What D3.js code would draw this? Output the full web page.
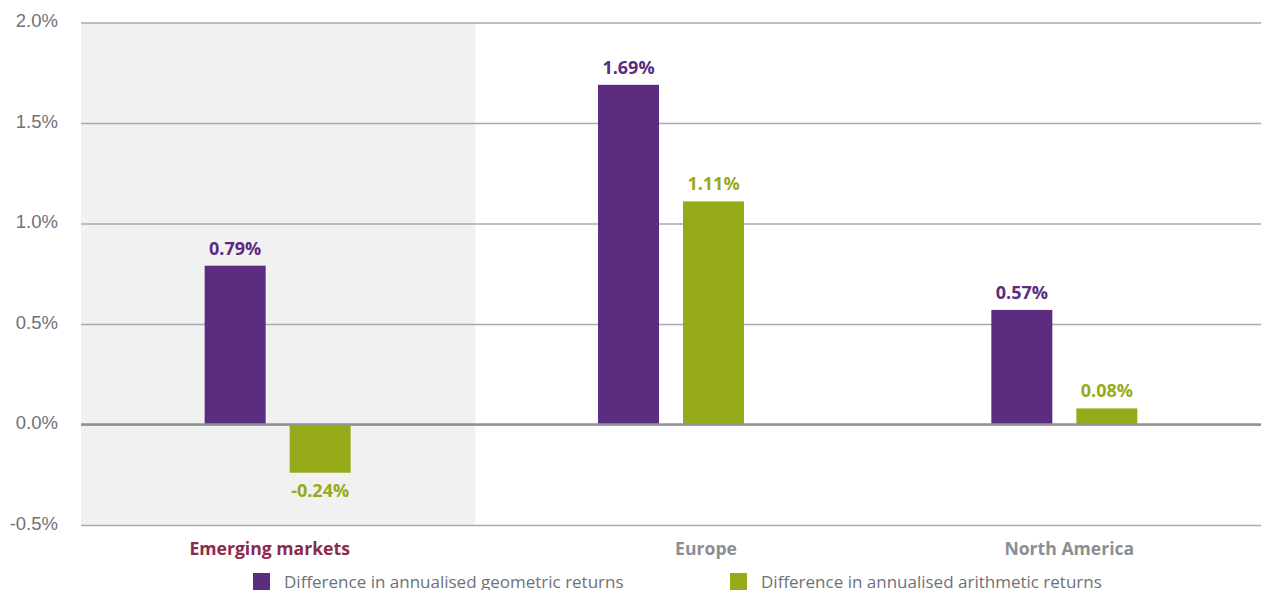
<!DOCTYPE html>
<html>
<head>
<meta charset="utf-8">
<script src="https://cdn.jsdelivr.net/npm/d3@7"></script>
<style>
  html, body { margin: 0; padding: 0; background: #ffffff; }
  svg { display: block; font-family: "Open Sans", "Noto Sans", sans-serif; }
</style>
</head>
<body>
<svg id="chart" width="1261" height="590"></svg>
<script>
// Regions compared and the two return measures
const categories = ["Emerging markets", "Europe", "North America"];
const seriesNames = [
  "Difference in annualised geometric returns",
  "Difference in annualised arithmetic returns"
];
const geometricValues = [0.79, 1.69, 0.57];
const arithmeticValues = [-0.24, 1.11, 0.08];
const yTickValues = [-0.5, 0.0, 0.5, 1.0, 1.5, 2.0];
const highlightedCategory = "Emerging markets";

const seriesColors = ["#5b2c80", "#97aa1a"];

// Number formatting with a plain hyphen for negatives
const locale = d3.formatLocale({ decimal: ".", thousands: ",", grouping: [3], currency: ["", ""], minus: "-" });
const fmt1 = locale.format(".1f");
const fmt2 = locale.format(".2f");

const svg = d3.select("#chart");
const plot = { left: 81, right: 1261, top: 22.5, bottom: 525 };

const x = d3.scaleBand()
  .domain(categories)
  .range([plot.left, plot.right])
  .paddingInner(0)
  .paddingOuter(0);

const y = d3.scaleLinear()
  .domain([-0.5, 2.0])
  .range([plot.bottom, plot.top]);

// Shaded band behind the highlighted region
svg.append("rect")
  .attr("x", x(highlightedCategory))
  .attr("y", y(2.0))
  .attr("width", x.bandwidth() + 1)
  .attr("height", y(-0.5) - y(2.0))
  .attr("fill", "#f1f1f1");

// Horizontal gridlines with tick labels
const yAxis = d3.axisLeft(y)
  .tickValues(yTickValues)
  .tickSize(-(plot.right - plot.left))
  .tickPadding(23)
  .tickFormat(d => fmt1(d) + "%");

const gy = svg.append("g")
  .attr("transform", `translate(${plot.left},0)`)
  .call(yAxis);
gy.select(".domain").remove();
gy.selectAll(".tick line")
  .attr("stroke", "#a7aaae")
  .attr("stroke-width", 1.3);
gy.selectAll(".tick text")
  .attr("fill", "#6d7278")
  .attr("font-size", 18.5)
  .attr("dy", "0.22em");

// Bars
const rows = categories.map((c, i) => ({
  category: c,
  values: [geometricValues[i], arithmeticValues[i]]
}));

const barW = 61;
const offsets = [-42.5, 42.5];

const groups = svg.append("g")
  .selectAll("g")
  .data(rows)
  .join("g")
  .attr("transform", d => `translate(${x(d.category) + x.bandwidth() / 2},0)`);

groups.selectAll("rect")
  .data(d => d.values.map((v, j) => ({ v, j })))
  .join("rect")
  .attr("x", d => offsets[d.j] - barW / 2)
  .attr("width", barW)
  .attr("y", d => y(Math.max(0, d.v)))
  .attr("height", d => Math.abs(y(d.v) - y(0)))
  .attr("fill", d => seriesColors[d.j]);

groups.selectAll("text.value")
  .data(d => d.values.map((v, j) => ({ v, j })))
  .join("text")
  .attr("class", "value")
  .attr("x", d => offsets[d.j])
  .attr("y", d => d.v >= 0 ? y(d.v) - 11 : y(d.v) + 24)
  .attr("text-anchor", "middle")
  .attr("font-size", 18)
  .attr("font-weight", 700)
  .attr("fill", d => seriesColors[d.j])
  .text(d => fmt2(d.v) + "%");

// Zero baseline
svg.append("line")
  .attr("x1", plot.left)
  .attr("x2", plot.right)
  .attr("y1", y(0))
  .attr("y2", y(0))
  .attr("stroke", "#8e9399")
  .attr("stroke-width", 2.6);

// Category labels
const labelShift = [-8, 35, 5];
svg.append("g")
  .selectAll("text")
  .data(categories)
  .join("text")
  .attr("x", (d, i) => x(d) + x.bandwidth() / 2 + labelShift[i])
  .attr("y", 555)
  .attr("text-anchor", "middle")
  .attr("font-size", 17.6)
  .attr("font-weight", 700)
  .attr("fill", d => d === highlightedCategory ? "#8c2a4b" : "#8a8f95")
  .text(d => d);

// Legend
const legendX = [253, 730];
const legend = svg.append("g")
  .selectAll("g")
  .data(seriesNames)
  .join("g")
  .attr("transform", (d, i) => `translate(${legendX[i]},573)`);
legend.append("rect")
  .attr("width", 17)
  .attr("height", 17)
  .attr("fill", (d, i) => seriesColors[i]);
legend.append("text")
  .attr("x", 31)
  .attr("y", 15)
  .attr("font-size", 17)
  .attr("fill", "#6d7279")
  .text(d => d);
</script>
</body>
</html>
